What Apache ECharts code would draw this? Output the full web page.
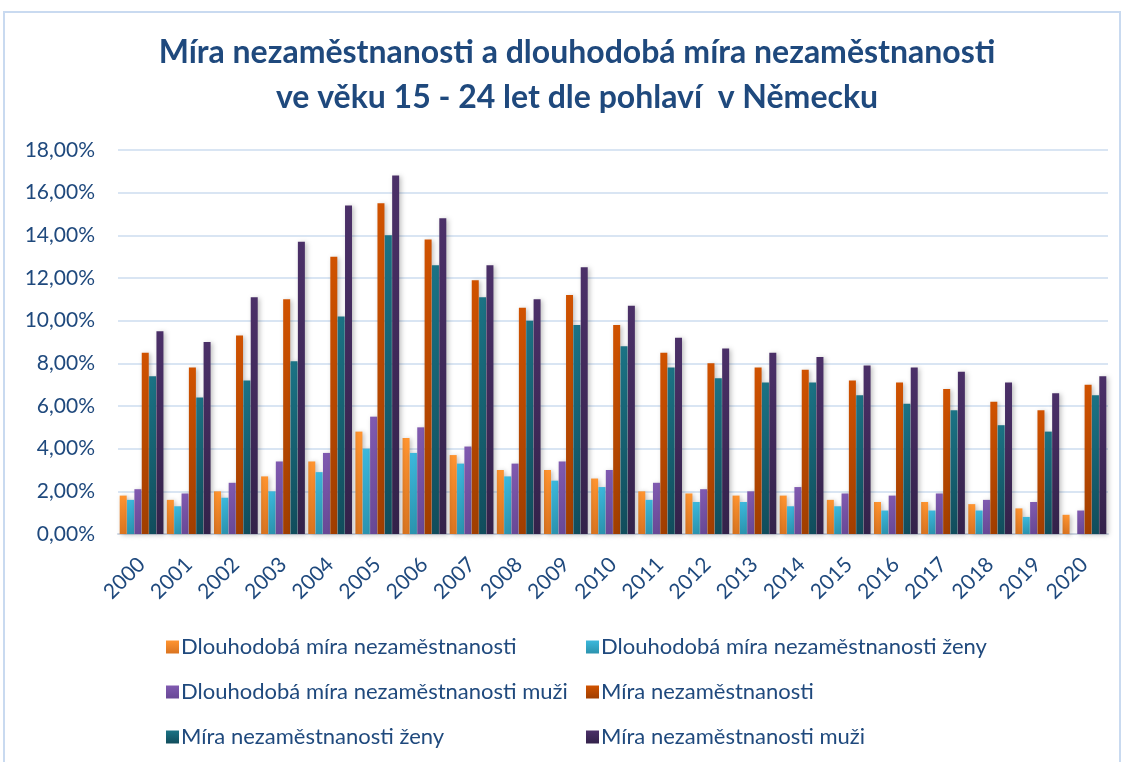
<!DOCTYPE html>
<html>
<head>
<meta charset="utf-8">
<script src="https://cdn.jsdelivr.net/npm/echarts@6/dist/echarts.min.js"></script>
<style>
  html, body { margin: 0; padding: 0; background: #fff; }
  #chart { width: 1126px; height: 762px; }
</style>
</head>
<body>
<div id="chart"></div>
<script>
const years = ['2000', '2001', '2002', '2003', '2004', '2005', '2006', '2007', '2008', '2009', '2010',
  '2011', '2012', '2013', '2014', '2015', '2016', '2017', '2018', '2019', '2020']
const seriesNames = [
  'Dlouhodobá míra nezaměstnanosti',
  'Dlouhodobá míra nezaměstnanosti ženy',
  'Dlouhodobá míra nezaměstnanosti muži',
  'Míra nezaměstnanosti',
  'Míra nezaměstnanosti ženy',
  'Míra nezaměstnanosti muži'
]
// hodnoty v procentech
const longTerm = [1.8, 1.6, 2.0, 2.7, 3.4, 4.8, 4.5, 3.7, 3.0, 3.0, 2.6, 2.0, 1.9, 1.8, 1.8, 1.6, 1.5, 1.5, 1.4, 1.2, 0.9]
const longTermWomen = [1.6, 1.3, 1.7, 2.0, 2.9, 4.0, 3.8, 3.3, 2.7, 2.5, 2.2, 1.6, 1.5, 1.5, 1.3, 1.3, 1.1, 1.1, 1.1, 0.8, null]
const longTermMen = [2.1, 1.9, 2.4, 3.4, 3.8, 5.5, 5.0, 4.1, 3.3, 3.4, 3.0, 2.4, 2.1, 2.0, 2.2, 1.9, 1.8, 1.9, 1.6, 1.5, 1.1]
const total = [8.5, 7.8, 9.3, 11.0, 13.0, 15.5, 13.8, 11.9, 10.6, 11.2, 9.8, 8.5, 8.0, 7.8, 7.7, 7.2, 7.1, 6.8, 6.2, 5.8, 7.0]
const women = [7.4, 6.4, 7.2, 8.1, 10.2, 14.0, 12.6, 11.1, 10.0, 9.8, 8.8, 7.8, 7.3, 7.1, 7.1, 6.5, 6.1, 5.8, 5.1, 4.8, 6.5]
const men = [9.5, 9.0, 11.1, 13.7, 15.4, 16.8, 14.8, 12.6, 11.0, 12.5, 10.7, 9.2, 8.7, 8.5, 8.3, 7.9, 7.8, 7.6, 7.1, 6.6, 7.4]
const allData = [longTerm, longTermWomen, longTermMen, total, women, men]

// barvy: horní a dolní část přechodu
const colorPairs = [
  ['#FF9430', '#DA7420'],
  ['#3CB8DC', '#2B93AE'],
  ['#805AB0', '#684896'],
  ['#D05200', '#A03E00'],
  ['#1B7385', '#114D5C'],
  ['#4B3068', '#33224A']
]

const textColor = '#1F497D'
const font = 'Lato'

const series = allData.map((d, i) => ({
  name: seriesNames[i],
  type: 'bar',
  barWidth: 7,
  barGap: '5%',
  data: d,
  itemStyle: {
    color: new echarts.graphic.LinearGradient(0, 0, 0, 1, [
      { offset: 0, color: colorPairs[i][0] },
      { offset: 1, color: colorPairs[i][1] }
    ]),
    shadowColor: 'rgba(0,0,0,0.25)',
    shadowBlur: 5,
    shadowOffsetX: 2,
    shadowOffsetY: 1
  }
}))

const legendBase = {
  orient: 'vertical',
  top: 630,
  itemWidth: 13,
  itemHeight: 13,
  itemGap: 21,
  icon: 'rect',
  textStyle: { color: textColor, fontFamily: font, fontSize: 22, lineHeight: 24, padding: [0, 0, 0, -3] }
}

const chart = echarts.init(document.getElementById('chart'))
chart.setOption({
  animation: false,
  textStyle: { fontFamily: font },
  title: {
    text: 'Míra nezaměstnanosti a dlouhodobá míra nezaměstnanosti\nve věku 15 - 24 let dle pohlaví  v Německu',
    left: 572,
    top: 25,
    textAlign: 'center',
    textStyle: {
      color: textColor,
      fontFamily: font,
      fontWeight: 'bold',
      fontSize: 32,
      lineHeight: 45
    }
  },
  graphic: [{
    type: 'rect',
    shape: { x: 4, y: 12, width: 1116, height: 770 },
    style: { fill: 'none', stroke: '#C9DAF0', lineWidth: 2 },
    silent: true
  }],
  legend: [
    Object.assign({}, legendBase, { left: 161, data: [seriesNames[0], seriesNames[2], seriesNames[4]] }),
    Object.assign({}, legendBase, { left: 581, data: [seriesNames[1], seriesNames[3], seriesNames[5]] })
  ],
  grid: { left: 118, right: 18, top: 150, bottom: 228 },
  xAxis: {
    type: 'category',
    data: years,
    axisTick: { show: false },
    axisLine: { lineStyle: { color: '#D0D8E4', width: 2 } },
    axisLabel: {
      color: textColor,
      fontFamily: font,
      fontSize: 21,
      rotate: 45,
      margin: 27,
      interval: 0
    }
  },
  yAxis: {
    type: 'value',
    min: 0,
    max: 18,
    interval: 2,
    axisLine: { show: false },
    axisTick: { show: false },
    splitLine: { lineStyle: { color: '#D9E5F3', width: 2 } },
    axisLabel: {
      color: textColor,
      fontFamily: font,
      fontSize: 21,
      margin: 23,
      formatter: (v) => v.toFixed(2).replace('.', ',') + '%'
    }
  },
  series: series
})
</script>
</body>
</html>
